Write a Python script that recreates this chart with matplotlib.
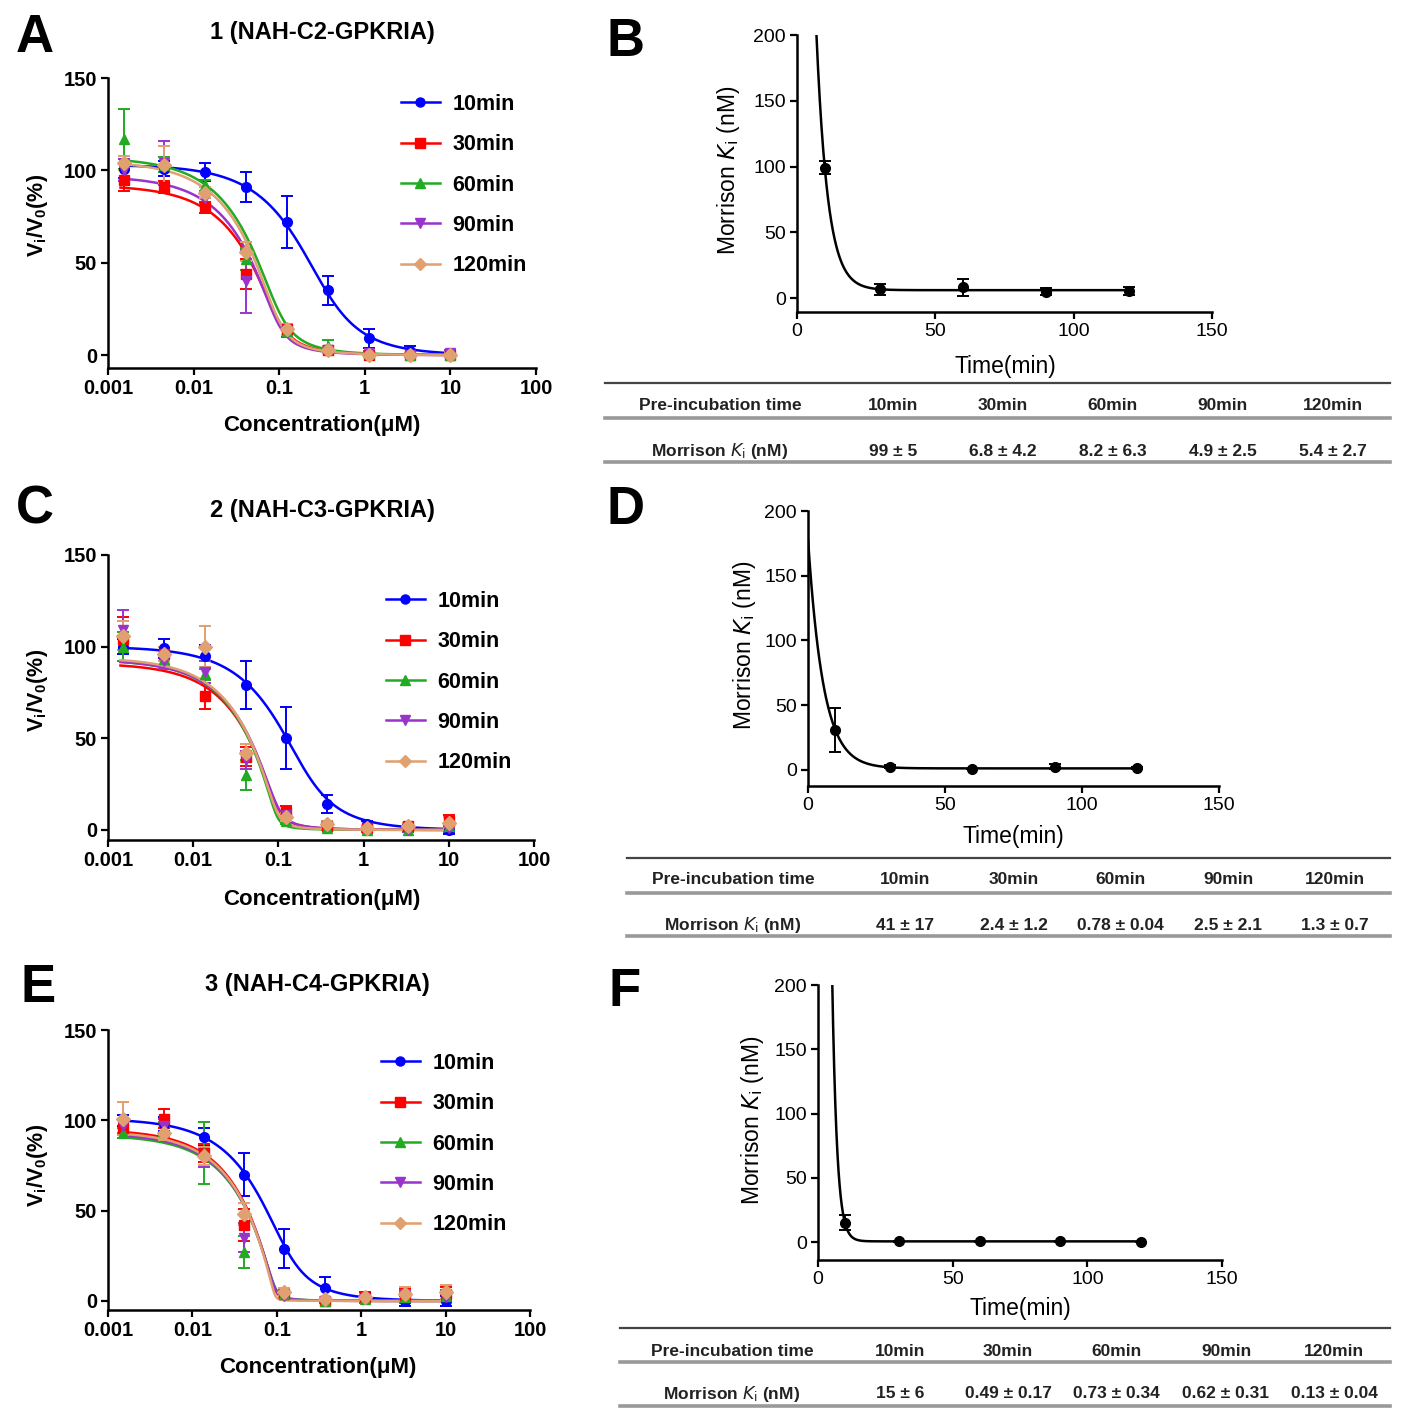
import numpy as np
import matplotlib
matplotlib.use('Agg')
import matplotlib.pyplot as plt
from matplotlib.lines import Line2D

plt.rcParams['font.family'] = ['Liberation Sans', 'DejaVu Sans']
plt.rcParams['mathtext.default'] = 'regular'

W, H = 1407, 1418

# ---- data -------------------------------------------------------------
conc = [0.00152, 0.00457, 0.0137, 0.0412, 0.123, 0.370, 1.11, 3.33, 10.0]
series = ['10min', '30min', '60min', '90min', '120min']
colors = ['#0000ff', '#ff0000', '#22aa22', '#9933cc', '#e0a070']
markers = ['o', 's', '^', 'v', 'D']
conc_ticks = [0.001, 0.01, 0.1, 1, 10, 100]
conc_ticklabels = ['0.001', '0.01', '0.1', '1', '10', '100']

# panel A: 1 (NAH-C2-GPKRIA)
a_mean = [[101, 101, 99, 91, 72, 35, 9, 2, 1],
          [95, 91, 80, 44, 14, 3, 0, 0, 0],
          [117, 103, 92, 52, 13, 5, 1, 0, 0],
          [100, 104, 85, 40, 13, 3, 1, 0, 1],
          [104, 103, 88, 56, 14, 3, 0, 0, 0]]
a_err = [[5, 4, 5, 8, 14, 8, 5, 3, 2],
         [6, 3, 3, 8, 3, 2, 1, 1, 1],
         [16, 4, 3, 6, 3, 3, 1, 1, 1],
         [6, 12, 3, 17, 3, 2, 1, 1, 2],
         [4, 10, 3, 5, 3, 2, 1, 1, 1]]
# Morrison fit: top (%), enzyme (uM), apparent Ki (uM)
a_top = [103, 92, 107, 97, 105]
a_enz = [0.24, 0.09, 0.09, 0.09, 0.09]
a_ki = [0.099, 0.0068, 0.0082, 0.0049, 0.0054]

# panel C: 2 (NAH-C3-GPKRIA)
c_mean = [[100, 99, 95, 79, 50, 14, 3, 1, 0],
          [104, 96, 73, 40, 10, 2, 1, 2, 5],
          [100, 93, 85, 30, 5, 1, 0, 0, 2],
          [109, 92, 86, 38, 8, 2, 0, 0, 1],
          [106, 96, 100, 42, 7, 3, 1, 2, 4]]
c_err = [[4, 5, 6, 13, 17, 5, 2, 2, 2],
         [12, 4, 7, 5, 3, 2, 1, 2, 3],
         [8, 3, 3, 8, 2, 1, 1, 1, 1],
         [11, 4, 6, 5, 2, 1, 1, 1, 2],
         [8, 4, 11, 5, 2, 2, 1, 2, 3]]
c_top = [100, 91, 93, 93, 94]
c_enz = [0.15, 0.095, 0.095, 0.095, 0.095]
c_ki = [0.05, 0.0024, 0.00078, 0.0025, 0.0013]

# panel E: 3 (NAH-C4-GPKRIA)
e_mean = [[100, 98, 91, 70, 29, 7, 2, 0, 0],
          [96, 101, 82, 42, 4, 0, 2, 3, 4],
          [93, 95, 82, 27, 4, 0, 1, 2, 3],
          [97, 97, 79, 35, 3, 0, 1, 3, 2],
          [101, 93, 80, 48, 5, 1, 2, 4, 5]]
e_err = [[3, 4, 5, 12, 11, 6, 3, 3, 3],
         [4, 5, 5, 9, 2, 1, 3, 4, 4],
         [3, 4, 17, 9, 2, 1, 2, 3, 3],
         [4, 4, 5, 8, 2, 1, 2, 3, 2],
         [9, 4, 5, 6, 2, 1, 2, 4, 4]]
e_top = [101, 95, 92, 93, 94]
e_enz = [0.11, 0.095, 0.095, 0.095, 0.095]
e_ki = [0.02, 0.00049, 0.00073, 0.00062, 0.00013]

# Morrison Ki vs pre-incubation time
times = [10, 30, 60, 90, 120]
b_ki = [99, 6.8, 8.2, 4.9, 5.4]
b_sd = [5, 4.2, 6.3, 2.5, 2.7]
d_ki = [31, 2.4, 0.78, 2.5, 1.3]
d_sd = [17, 1.2, 0.04, 2.1, 0.7]
f_ki = [15, 0.49, 0.73, 0.62, 0.13]
f_sd = [6, 0.17, 0.34, 0.31, 0.04]
# one-phase decay fit: span, rate (1/min), plateau
b_decay = [1087, 0.245, 6]
d_decay = [177, 0.179, 1.2]
f_decay = [3848, 0.558, 0.5]

# table text
table_head = ['Pre-incubation time', '10min', '30min', '60min', '90min', '120min']
b_row = ['99 ± 5', '6.8 ± 4.2', '8.2 ± 6.3', '4.9 ± 2.5', '5.4 ± 2.7']
d_row = ['41 ± 17', '2.4 ± 1.2', '0.78 ± 0.04', '2.5 ± 2.1', '1.3 ± 0.7']
f_row = ['15 ± 6', '0.49 ± 0.17', '0.73 ± 0.34', '0.62 ± 0.31', '0.13 ± 0.04']


def fx(x):
    return x / W


def fy(y):
    return 1 - y / H


def px_axes(fig, x0, ytop, x1, ybot):
    return fig.add_axes([fx(x0), fy(ybot), (x1 - x0) / W, (ybot - ytop) / H])


def morrison(i, top, e, k):
    s = e + i + k
    return top * (1 - (s - np.sqrt(s * s - 4 * e * i)) / (2 * e))


def style_axes(ax, tick_size, weight='bold'):
    for side in ['top', 'right']:
        ax.spines[side].set_visible(False)
    for side in ['left', 'bottom']:
        ax.spines[side].set_linewidth(1.8)
    ax.tick_params(direction='out', length=5, width=1.6, labelsize=tick_size, pad=3)
    for lab in ax.get_xticklabels() + ax.get_yticklabels():
        lab.set_fontweight(weight)


def dose_panel(fig, box, means, errs, tops, enzs, kis, ybottom, legend_xy):
    ax = px_axes(fig, *box)
    xs = np.logspace(np.log10(0.0014), np.log10(11), 300)
    for k in range(len(series)):
        ax.plot(xs, morrison(xs, tops[k], enzs[k], kis[k]), color=colors[k], lw=1.8)
        ax.errorbar(conc, means[k], yerr=errs[k], fmt=markers[k], color=colors[k],
                    ms=7, capsize=4, elinewidth=1.4, capthick=1.4)
    ax.set_xscale('log')
    ax.set_xlim(0.001, 100)
    ax.set_ylim(ybottom, 150)
    ax.set_xticks(conc_ticks)
    ax.set_xticklabels(conc_ticklabels)
    ax.minorticks_off()
    ax.set_yticks([0, 50, 100, 150])
    style_axes(ax, 14.5)
    handles = [Line2D([], [], color=colors[k], marker=markers[k], ms=6.5, lw=1.8)
               for k in range(len(series))]
    fig.legend(handles, series, loc='upper left',
               bbox_to_anchor=(fx(legend_xy[0]), fy(legend_xy[1])),
               frameon=False, borderpad=0, handlelength=1.8, handletextpad=0.6,
               labelspacing=0.9, prop={'size': 15.5, 'weight': 'bold'})
    return ax


def ki_panel(fig, box, kis, sds, decay, ybottom):
    ax = px_axes(fig, *box)
    ts = np.linspace(0, 120, 600)
    ax.plot(ts, decay[0] * np.exp(-decay[1] * ts) + decay[2], color='black', lw=1.8)
    ax.errorbar(times, kis, yerr=sds, fmt='o', color='black', ms=7,
                capsize=4, elinewidth=1.4, capthick=1.4)
    ax.set_xlim(0, 150)
    ax.set_ylim(ybottom, 200)
    ax.set_xticks([0, 50, 100, 150])
    ax.set_yticks([0, 50, 100, 150, 200])
    style_axes(ax, 14, weight='normal')
    return ax


def table(fig, x0, x1, ylines, yhead, yrow, cols, row):
    for j, yl in enumerate(ylines):
        c = '#444444' if j == 0 else '#999999'
        w = 1.6 if j == 0 else 2.6
        fig.add_artist(Line2D([fx(x0), fx(x1)], [fy(yl), fy(yl)],
                              transform=fig.transFigure, color=c, lw=w))
    for c, txt in zip(cols, table_head):
        fig.text(fx(c), fy(yhead), txt, ha='center', va='center',
                 fontsize=12.5, fontweight='bold', color='#222222')
    labels = ['Morrison $\\mathit{K}_\\mathrm{i}$ (nM)'] + row
    for c, txt in zip(cols, labels):
        fig.text(fx(c), fy(yrow), txt, ha='center', va='center',
                 fontsize=12.5, fontweight='bold', color='#222222')


fig = plt.figure(figsize=(W / 100, H / 100), dpi=100)

dose_panel(fig, (108, 78, 536, 368), a_mean, a_err, a_top, a_enz, a_ki, -7.0, (390, 83))
dose_panel(fig, (108, 555, 534, 840), c_mean, c_err, c_top, c_enz, c_ki, -5.5, (375, 580))
dose_panel(fig, (108, 1030, 530, 1310), e_mean, e_err, e_top, e_enz, e_ki, -5.0, (370, 1042))

ki_panel(fig, (797, 35, 1212, 312), b_ki, b_sd, b_decay, -10.6)
ki_panel(fig, (808, 511, 1219, 786), d_ki, d_sd, d_decay, -12.4)
ki_panel(fig, (818, 985, 1222, 1260), f_ki, f_sd, f_decay, -14.0)

# panel letters and titles
for letter, x, y in [('A', 35, 38), ('B', 625, 42), ('C', 35, 510),
                     ('D', 625, 510), ('E', 38, 988), ('F', 625, 992)]:
    fig.text(fx(x), fy(y), letter, ha='center', va='center', fontsize=38, fontweight='bold')
for title, x, y in [('1 (NAH-C2-GPKRIA)', 322, 33), ('2 (NAH-C3-GPKRIA)', 322, 510),
                    ('3 (NAH-C4-GPKRIA)', 317, 985)]:
    fig.text(fx(x), fy(y), title, ha='center', va='center', fontsize=17, fontweight='bold')

# axis labels
for x, y in [(38, 215), (38, 690), (38, 1165)]:
    fig.text(fx(x), fy(y), 'V$_i$/V$_0$(%)', rotation=90, ha='center', va='center',
             fontsize=15.5, fontweight='bold')
for x, y in [(322, 425), (322, 899), (318, 1368)]:
    fig.text(fx(x), fy(y), 'Concentration(μM)', ha='center', va='center',
             fontsize=16, fontweight='bold')
for x, y in [(728, 170), (745, 645), (752, 1120)]:
    fig.text(fx(x), fy(y), 'Morrison $\\mathit{K}_\\mathrm{i}$ (nM)', rotation=90,
             ha='center', va='center', fontsize=16.5)
for x, y in [(1005, 367), (1013, 836), (1020, 1309)]:
    fig.text(fx(x), fy(y), 'Time(min)', ha='center', va='center', fontsize=16.5)

# tables
table(fig, 605, 1390, [383, 418, 462], 406, 451, [720, 893, 1003, 1113, 1223, 1333], b_row)
table(fig, 627, 1390, [858, 893, 936], 880, 925, [733, 905, 1014, 1120, 1228, 1335], d_row)
table(fig, 620, 1390, [1328, 1362, 1406], 1351, 1394, [732, 900, 1008, 1116, 1226, 1334], f_row)

fig.savefig('out.png', dpi=100)
